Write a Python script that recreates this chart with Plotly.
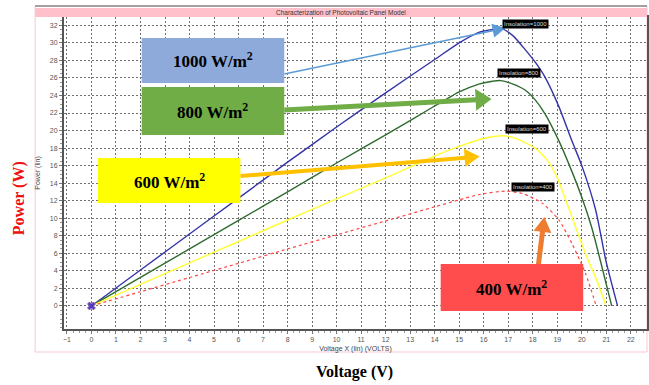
import math
import plotly.graph_objects as go

# ---- data ----
v1000 = [0, 2, 4, 6, 8, 10, 12, 14, 15, 15.8, 16.3, 16.75, 17.2, 17.7, 18.1, 18.5, 19.07, 19.6, 20.0, 20.57, 20.98, 21.46]
p1000 = [0, 4.1, 8.2, 12.3, 16.4, 20.4, 24.3, 28.1, 30.0, 31.2, 31.5, 31.6, 30.8, 29.2, 27.8, 26.1, 22.7, 18.8, 16.0, 10.9, 5.2, 0]

v800 = [0, 2, 4, 6, 8, 10, 12, 14, 15, 15.8, 16.3, 16.7, 17.2, 17.7, 18.1, 18.5, 19.07, 19.5, 20.0, 20.4, 20.8, 21.22]
p800 = [0, 3.25, 6.5, 9.75, 13.0, 16.3, 19.5, 22.8, 24.4, 25.3, 25.6, 25.7, 25.3, 24.6, 23.5, 21.9, 18.8, 16.0, 12.4, 9.0, 4.7, 0]

v600 = [0, 2, 4, 6, 8, 10, 12, 14, 15, 16, 16.75, 17.3, 18.1, 18.6, 19.0, 19.5, 20.16, 20.6, 20.98]
p600 = [0, 2.45, 4.9, 7.35, 9.8, 12.2, 14.6, 17.1, 18.2, 19.1, 19.4, 19.1, 18.0, 16.6, 14.6, 10.9, 5.9, 3.0, 0.1]

v400 = [0, 2, 4, 6, 8, 10, 12, 14, 15, 15.8, 16.9, 17.6, 18.4, 19.07, 19.6, 20.16, 20.6]
p400 = [0, 1.62, 3.24, 4.86, 6.5, 8.1, 9.7, 11.3, 12.1, 12.7, 13.1, 12.8, 11.7, 9.8, 7.1, 3.65, -0.1]

series_names = ["Insolation=1000", "Insolation=800", "Insolation=600", "Insolation=400"]
box_labels = ["1000 W/m<sup>2</sup>", "800 W/m<sup>2</sup>", "600 W/m<sup>2</sup>", "400 W/m<sup>2</sup>"]
x_ticks = list(range(-1, 23))
y_ticks = list(range(0, 33, 2))

W, H = 649, 385
L, R, T, B = 64, 0, 17, 56
PW, PH = W - L - R, H - T - B


def px(x):
    return (x - L) / PW


def py(y):
    return (H - B - y) / PH


fig = go.Figure()
line_styles = [
    dict(color="#3434a8", width=1.4),
    dict(color="#2f6b2f", width=1.4),
    dict(color="#ffff33", width=1.4),
    dict(color="#ff4545", width=1.2, dash="dot"),
]
for (v, p), name, st in zip([(v1000, p1000), (v800, p800), (v600, p600), (v400, p400)], series_names, line_styles):
    fig.add_trace(go.Scatter(x=v, y=p, mode="lines", name=name, line=dict(shape="spline", smoothing=0.6, **st)))

fig.add_trace(go.Scatter(x=[v1000[0]], y=[p1000[0]], mode="markers",
                         marker=dict(symbol="x", size=7, color="#4040c0", line=dict(color="#9a5ab0", width=1))))

tickfont = dict(family="Arial, Liberation Sans", size=7, color="#555")
fig.update_layout(
    width=W, height=H, margin=dict(l=L, r=R, t=T, b=B),
    paper_bgcolor="white", plot_bgcolor="white", showlegend=False,
    xaxis=dict(range=[-1.12, 22.66], tickvals=x_ticks, tickfont=tickfont, showgrid=True,
               gridcolor="#707070", griddash="2px,2px", gridwidth=1, zeroline=False,
               showline=True, linecolor="#555", linewidth=2, mirror=True,
               ticks="outside", ticklen=3, tickcolor="#777",
               minor=dict(ticks="outside", ticklen=2, dtick=0.25, tickcolor="#999", showgrid=False),
               title=dict(text="Voltage X (lin) (VOLTS)", font=dict(family="Arial, Liberation Sans", size=7, color="#444"), standoff=4)),
    yaxis=dict(range=[-2.63, 32.95], tickvals=y_ticks, tickfont=tickfont, showgrid=True,
               gridcolor="#707070", griddash="2px,2px", gridwidth=1, zeroline=False,
               showline=True, linecolor="#555", linewidth=2, mirror=True,
               ticks="outside", ticklen=3, tickcolor="#777",
               minor=dict(ticks="outside", ticklen=2, dtick=0.5, tickcolor="#999", showgrid=False),
               title=dict(text="Power (lin)", font=dict(family="Arial, Liberation Sans", size=7, color="#444"), standoff=8)),
)

# frame and title band
fig.add_shape(type="rect", xref="paper", yref="paper", x0=px(35), x1=px(649), y0=py(352), y1=py(6),
              line=dict(color="#f5c9d3", width=1), fillcolor="rgba(0,0,0,0)", layer="below")
fig.add_shape(type="rect", xref="paper", yref="paper", x0=px(35), x1=px(649), y0=py(17), y1=py(8),
              line=dict(width=0), fillcolor="#ffc0cc")
fig.add_shape(type="line", xref="paper", yref="paper", x0=px(35), x1=px(649), y0=py(6), y1=py(6),
              line=dict(color="#888", width=1.5))
fig.add_annotation(xref="paper", yref="paper", x=px(342), y=py(12.5), xanchor="center", yanchor="middle",
                   text="Characterization of Photovoltaic Panel Model",
                   showarrow=False, font=dict(family="Arial, Liberation Sans", size=6.5, color="#333"))

# curve labels
lab_pos = [(17.7, 32.15), (17.45, 26.6), (17.75, 20.2), (18.0, 13.6)]
for (lx, ly), name in zip(lab_pos, series_names):
    fig.add_annotation(x=lx, y=ly, xanchor="center", yanchor="middle", text=name, showarrow=False, bgcolor="black",
                       font=dict(family="Arial, Liberation Sans", size=6, color="#ddd"), borderpad=1)

# block arrows drawn as shapes (pixel geometry converted to paper coordinates)
arrows = [
    dict(tip=(507, 28), tail=(285, 74), color="#5b9bd5", width=1.5, hl=13, hw=7),
    dict(tip=(493, 99), tail=(285, 110), color="#70ad47", width=5, hl=16, hw=11),
    dict(tip=(481, 156.5), tail=(241, 176), color="#ffc000", width=4, hl=15, hw=9),
    dict(tip=(546, 217), tail=(540, 265), color="#ed7d31", width=5, hl=15, hw=9),
]
for a in arrows:
    tx, ty = a["tip"]
    sx, sy = a["tail"]
    d = math.hypot(tx - sx, ty - sy)
    ux, uy = (tx - sx) / d, (ty - sy) / d
    nx, ny = -uy, ux
    bx, by = tx - ux * a["hl"], ty - uy * a["hl"]
    fig.add_shape(type="line", xref="paper", yref="paper", x0=px(sx), y0=py(sy), x1=px(bx + ux), y1=py(by + uy),
                  line=dict(color=a["color"], width=a["width"]))
    p1 = (bx + nx * a["hw"], by + ny * a["hw"])
    p2 = (bx - nx * a["hw"], by - ny * a["hw"])
    path = "M{},{} L{},{} L{},{} Z".format(px(tx), py(ty), px(p1[0]), py(p1[1]), px(p2[0]), py(p2[1]))
    fig.add_shape(type="path", xref="paper", yref="paper", path=path, fillcolor=a["color"], line=dict(width=0))

# big coloured boxes
boxes = [
    ((142, 285, 38, 83), "#8eaadb"),
    ((142, 285, 87, 135), "#70ad47"),
    ((98, 241, 158, 203), "#ffff00"),
    ((442, 585, 264, 311), "#ff4d4d"),
]
for ((x0, x1, y0, y1), col), txt in zip(boxes, box_labels):
    fig.add_shape(type="rect", xref="paper", yref="paper", x0=px(x0), x1=px(x1), y0=py(y1), y1=py(y0),
                  line=dict(width=0), fillcolor=col)
    fig.add_annotation(xref="paper", yref="paper", x=px((x0 + x1) / 2), y=py((y0 + y1) / 2),
                       xanchor="center", yanchor="middle", text="<b>" + txt + "</b>",
                       showarrow=False, font=dict(family="Liberation Serif, Times New Roman", size=17, color="black"))

# outer labels
fig.add_annotation(xref="paper", yref="paper", x=px(355), y=py(372), xanchor="center", yanchor="middle",
                   text="<b>Voltage (V)</b>", showarrow=False,
                   font=dict(family="Liberation Serif, Times New Roman", size=16, color="black"))
fig.add_annotation(xref="paper", yref="paper", x=px(19), y=py(198), xanchor="center", yanchor="middle",
                   text="<b>Power (W)</b>", showarrow=False, textangle=-90,
                   font=dict(family="Liberation Serif, Times New Roman", size=16, color="#ee1111"))

fig.write_html("out.html")
